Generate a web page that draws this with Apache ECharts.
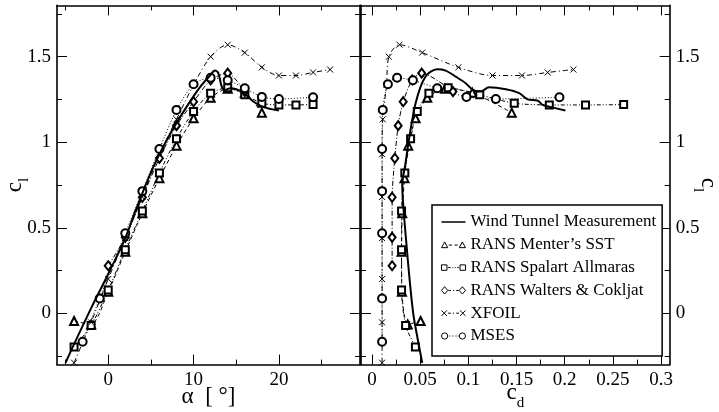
<!DOCTYPE html>
<html><head><meta charset="utf-8">
<script src="https://cdn.jsdelivr.net/npm/echarts@6/dist/echarts.min.js"></script>
<style>html,body{margin:0;padding:0;background:#fff}#c{width:719px;height:412px}</style>
</head><body><div id="c"></div>
<script>
// ---------- tick values ----------
const alphaMajorTicks = [0, 10, 20];
const alphaMinorTicks = [-5, 5, 15, 25];
const clMajorTicks = [0, 0.5, 1, 1.5];
const clMinorTicks = [-0.25, 0.25, 0.75, 1.25, 1.75];
const cdMajorTicks = [0, 0.05, 0.1, 0.15, 0.2, 0.25, 0.3];
const cdMinorTicks = [0.025, 0.075, 0.125, 0.175, 0.225, 0.275];

// ---------- Wind tunnel measurement ----------
const windAlpha = [-5.0, -4, -2, 0, 2, 3.2, 5.3, 7.3, 9.2, 10.8, 12.0, 12.5, 12.9, 13.3, 13.7, 14.3, 15.0, 15.9, 17.0, 18.2, 20.0];
const windClA   = [-0.29, -0.18, 0.03, 0.23, 0.44, 0.60, 0.857, 1.053, 1.208, 1.325, 1.394, 1.419, 1.404, 1.325, 1.306, 1.316, 1.31, 1.287, 1.238, 1.205, 1.185];
const windCd    = [0.0521, 0.0469, 0.0427, 0.0390, 0.0359, 0.0330, 0.0313, 0.0347, 0.0382, 0.0417, 0.0452, 0.0504, 0.0556, 0.0608, 0.0677, 0.0764, 0.0868, 0.0972, 0.1047, 0.1128, 0.1215, 0.1389, 0.1528, 0.1615, 0.1719, 0.1771, 0.1840, 0.2007];
const windClD   = [-0.29, -0.137, 0.0, 0.195, 0.39, 0.585, 0.75, 0.877, 1.013, 1.13, 1.228, 1.325, 1.384, 1.413, 1.427, 1.419, 1.384, 1.345, 1.306, 1.296, 1.322, 1.31, 1.287, 1.251, 1.243, 1.218, 1.208, 1.185];

// ---------- RANS Menter's SST ----------
const sstAlpha = [-4, -2, 0, 2, 4, 6, 8, 10, 12, 14, 16, 18];
const sstCl    = [-0.045, -0.065, 0.126, 0.36, 0.585, 0.79, 0.98, 1.14, 1.26, 1.313, 1.29, 1.173];
const sstCd    = [0.0504, 0.037, 0.031, 0.0306, 0.0313, 0.0337, 0.0375, 0.0452, 0.0573, 0.0757, 0.104, 0.145];

// ---------- RANS Spalart Allmaras ----------
const saAlpha = [-4, -2, 0, 2, 4, 6, 8, 10, 12, 14, 16, 18, 20, 22, 24];
const saCl    = [-0.197, -0.072, 0.136, 0.372, 0.598, 0.82, 1.021, 1.18, 1.287, 1.318, 1.277, 1.228, 1.218, 1.218, 1.22];
const saCd    = [0.045, 0.0348, 0.0306, 0.0306, 0.0306, 0.034, 0.040, 0.0469, 0.059, 0.079, 0.1118, 0.1476, 0.184, 0.2216, 0.2612];

// ---------- RANS Walters & Cokljat ----------
const wcAlpha = [0, 2, 4, 6, 8, 10, 12, 14, 16];
const wcCl    = [0.278, 0.444, 0.678, 0.906, 1.097, 1.237, 1.364, 1.404, 1.296];
const wcCd    = [0.0208, 0.0208, 0.0208, 0.0236, 0.0271, 0.0323, 0.0417, 0.0515, 0.084];

// ---------- XFOIL ----------
const xfAlpha = [-4, -2, 0, 2, 4, 6, 8, 10, 12, 14, 16, 18, 20, 22, 24, 26];
const xfCl    = [-0.289, -0.053, 0.2, 0.44, 0.68, 0.93, 1.134, 1.335, 1.50, 1.57, 1.524, 1.438, 1.39, 1.39, 1.408, 1.425];
const xfCd    = [0.0104, 0.0104, 0.0104, 0.0104, 0.0104, 0.0104, 0.0111, 0.015, 0.0174, 0.0285, 0.052, 0.0896, 0.125, 0.1556, 0.1823, 0.209];

// ---------- MSES ----------
const msAlpha = [-3, -1, 2, 4, 6, 8, 10, 12, 14, 16, 18, 20, 24];
const msCl    = [-0.166, 0.086, 0.468, 0.714, 0.96, 1.189, 1.339, 1.377, 1.362, 1.316, 1.265, 1.253, 1.263];
const msCd    = [0.0104, 0.0104, 0.0104, 0.0104, 0.0104, 0.0111, 0.0164, 0.026, 0.0424, 0.0677, 0.098, 0.1285, 0.1945];

const names = ['Wind Tunnel Measurement', 'RANS Menter\u2019s SST', 'RANS Spalart Allmaras', 'RANS Walters & Cokljat', 'XFOIL', 'MSES'];

const FONT = "'Liberation Serif', 'Times New Roman', serif";
const zip = (a, b) => a.map((v, i) => [v, b[i]]);

const ALPHA_MIN = -6, ALPHA_MAX = 29.5;
const CL_MIN = -0.3, CL_MAX = 1.8;
const CD_MIN = -0.0115, CD_MAX = 0.309;

function majorAxis(gridIndex, position, min, max, ticks, showLabels, extra) {
  return Object.assign({
    type: 'value', gridIndex, position, min, max,
    axisLine: { show: true, onZero: false, lineStyle: { color: '#000', width: 1.6 } },
    axisTick: { show: true, inside: true, length: 10, customValues: ticks, lineStyle: { color: '#000', width: 1 } },
    axisLabel: showLabels ? { show: true, customValues: ticks, color: '#000', fontFamily: FONT, fontSize: 19, margin: 6 } : { show: false },
    splitLine: { show: false }, minorTick: { show: false }, nameMoveOverlap: false
  }, extra || {});
}
function minorAxis(gridIndex, position, min, max, ticks) {
  return {
    type: 'value', gridIndex, position, min, max,
    axisLine: { show: false, onZero: false },
    axisTick: { show: true, inside: true, length: 5, customValues: ticks, lineStyle: { color: '#000', width: 1 } },
    axisLabel: { show: false }, splitLine: { show: false }
  };
}
const nameStyleC = () => ({
  fontFamily: FONT, color: '#000',
  rich: {
    c: { fontFamily: FONT, fontSize: 23, color: '#000', verticalAlign: 'top', padding: [0, 0, 6, 0] },
    s: { fontFamily: FONT, fontSize: 15, color: '#000', verticalAlign: 'bottom' }
  }
});

const xAxes = [
  majorAxis(0, 'bottom', ALPHA_MIN, ALPHA_MAX, alphaMajorTicks, true, {
    name: '\u03b1  [ \u00b0]', nameLocation: 'middle', nameGap: 21,
    nameTextStyle: { fontFamily: FONT, fontSize: 23, color: '#000' }
  }),
  minorAxis(0, 'bottom', ALPHA_MIN, ALPHA_MAX, alphaMinorTicks),
  majorAxis(0, 'top', ALPHA_MIN, ALPHA_MAX, alphaMajorTicks, false),
  minorAxis(0, 'top', ALPHA_MIN, ALPHA_MAX, alphaMinorTicks),
  majorAxis(1, 'bottom', CD_MIN, CD_MAX, cdMajorTicks, true, {
    name: '{c|c}{s|d}', nameLocation: 'middle', nameGap: 17,
    nameTextStyle: nameStyleC()
  }),
  minorAxis(1, 'bottom', CD_MIN, CD_MAX, cdMinorTicks),
  majorAxis(1, 'top', CD_MIN, CD_MAX, cdMajorTicks, false),
  minorAxis(1, 'top', CD_MIN, CD_MAX, cdMinorTicks)
];
const yAxes = [
  majorAxis(0, 'left', CL_MIN, CL_MAX, clMajorTicks, true, {
    name: '{c|c}{s|l}', nameLocation: 'middle', nameGap: 25,
    nameTextStyle: nameStyleC()
  }),
  minorAxis(0, 'left', CL_MIN, CL_MAX, clMinorTicks),
  majorAxis(0, 'right', CL_MIN, CL_MAX, clMajorTicks, false),
  minorAxis(0, 'right', CL_MIN, CL_MAX, clMinorTicks),
  majorAxis(1, 'right', CL_MIN, CL_MAX, clMajorTicks, true, {
    name: '{c|c}{s|l}', nameLocation: 'middle', nameGap: 21, nameRotate: -90,
    nameTextStyle: nameStyleC()
  }),
  minorAxis(1, 'right', CL_MIN, CL_MAX, clMinorTicks),
  majorAxis(1, 'left', CL_MIN, CL_MAX, clMajorTicks, false),
  minorAxis(1, 'left', CL_MIN, CL_MAX, clMinorTicks)
];

const styles = [
  { symbol: 'none', lineStyle: { color: '#000', width: 2, type: 'solid' }, smooth: 0.3 },
  { symbol: 'emptyTriangle', symbolSize: 8, lineStyle: { color: '#000', width: 1, type: [4, 3] }, smooth: 0.25 },
  { symbol: 'emptyRect', symbolSize: 7, lineStyle: { color: '#000', width: 1, type: [4, 2, 1, 2, 1, 2] }, smooth: 0.25 },
  { symbol: 'emptyDiamond', symbolSize: [7, 9], lineStyle: { color: '#000', width: 1, type: [5, 2, 1, 2] }, smooth: 0.25 },
  { symbol: 'path://M0,0L10,10M10,0L0,10', symbolSize: 6, lineStyle: { color: '#000', width: 1, type: [5, 3, 1, 3] }, smooth: 0.3 },
  { symbol: 'emptyCircle', symbolSize: 8, lineStyle: { color: '#000', width: 1, type: [1, 2] }, smooth: 0.25 }
];

// legend sample glyphs (line sample with a marker at each end)
const L = 3.5, R = 20.5;
const tri = c => `M${c - 3},6.5L${c},1L${c + 3},6.5Z`;
const sq = c => `M${c - 2.5},1.5L${c + 2.5},1.5L${c + 2.5},6.5L${c - 2.5},6.5Z`;
const dia = c => `M${c},0.5L${c + 3},4L${c},7.5L${c - 3},4Z`;
const crs = c => `M${c - 2.5},1.5L${c + 2.5},6.5M${c + 2.5},1.5L${c - 2.5},6.5`;
const cir = c => `M${c - 3},4A3,3 0 1,1 ${c + 3},4A3,3 0 1,1 ${c - 3},4Z`;
const legendIcons = [
  'path://M0,3.25L24,3.25L24,4.75L0,4.75Z',
  'path://' + tri(L) + 'M7.5,4L10.5,4M13,4L16,4' + tri(R),
  'path://' + sq(L) + 'M7,4L9.5,4M11,4L11.8,4M13.3,4L14.1,4M15.5,4L17,4' + sq(R),
  'path://' + dia(L) + 'M7,4L9.5,4M11.5,4L12.5,4M14.5,4L17,4' + dia(R),
  'path://' + crs(L) + 'M7,4L9.5,4M11.5,4L12.5,4M14.5,4L17,4' + crs(R),
  'path://' + cir(L) + 'M8,4L9,4M11,4L12,4M14,4L15,4M16.5,4L17,4' + cir(R)
];

const leftData = [zip(windAlpha, windClA), zip(sstAlpha, sstCl), zip(saAlpha, saCl), zip(wcAlpha, wcCl), zip(xfAlpha, xfCl), zip(msAlpha, msCl)];
const rightData = [zip(windCd, windClD), zip(sstCd, sstCl), zip(saCd, saCl), zip(wcCd, wcCl), zip(xfCd, xfCl), zip(msCd, msCl)];

const series = [];
function addSeries(i, data, xi, yi) {
  const st = styles[i];
  series.push({
    type: 'line', name: names[i], xAxisIndex: xi, yAxisIndex: yi, data,
    symbol: st.symbol, symbolSize: st.symbolSize, showSymbol: st.symbol !== 'none',
    smooth: st.smooth, lineStyle: st.lineStyle,
    itemStyle: { color: '#000', borderColor: '#000', borderWidth: 1 },
    emphasis: { disabled: true }, clip: true, z: i === 0 ? 5 : 3
  });
}
leftData.forEach((d, i) => addSeries(i, d, 0, 0));
rightData.forEach((d, i) => addSeries(i, d, 4, 4));

const legendData = names.map((n, i) => ({
  name: n, icon: legendIcons[i],
  itemStyle: i === 0 ? { color: '#000', borderWidth: 0 } : { color: '#fff', borderColor: '#000', borderWidth: 1 }
}));

const chart = echarts.init(document.getElementById('c'), null, { renderer: 'canvas' });
chart.setOption({
  animation: false,
  backgroundColor: '#fff',
  grid: [
    { left: 57, top: 5.4, width: 303, height: 359.2, outerBoundsMode: 'none' },
    { left: 361, top: 5.4, width: 308.7, height: 359.2, outerBoundsMode: 'none' }
  ],
  xAxis: xAxes,
  yAxis: yAxes,
  legend: {
    data: legendData, orient: 'vertical', left: 432, top: 205,
    padding: [8, 6, 11, 9], itemGap: 4.8, itemWidth: 24, itemHeight: 8,
    symbolKeepAspect: true,
    borderColor: '#000', borderWidth: 1.5, backgroundColor: '#fff',
    textStyle: { fontFamily: FONT, fontSize: 17, color: '#000', lineHeight: 18 },
    selectedMode: false
  },
  series
});
</script></body></html>
